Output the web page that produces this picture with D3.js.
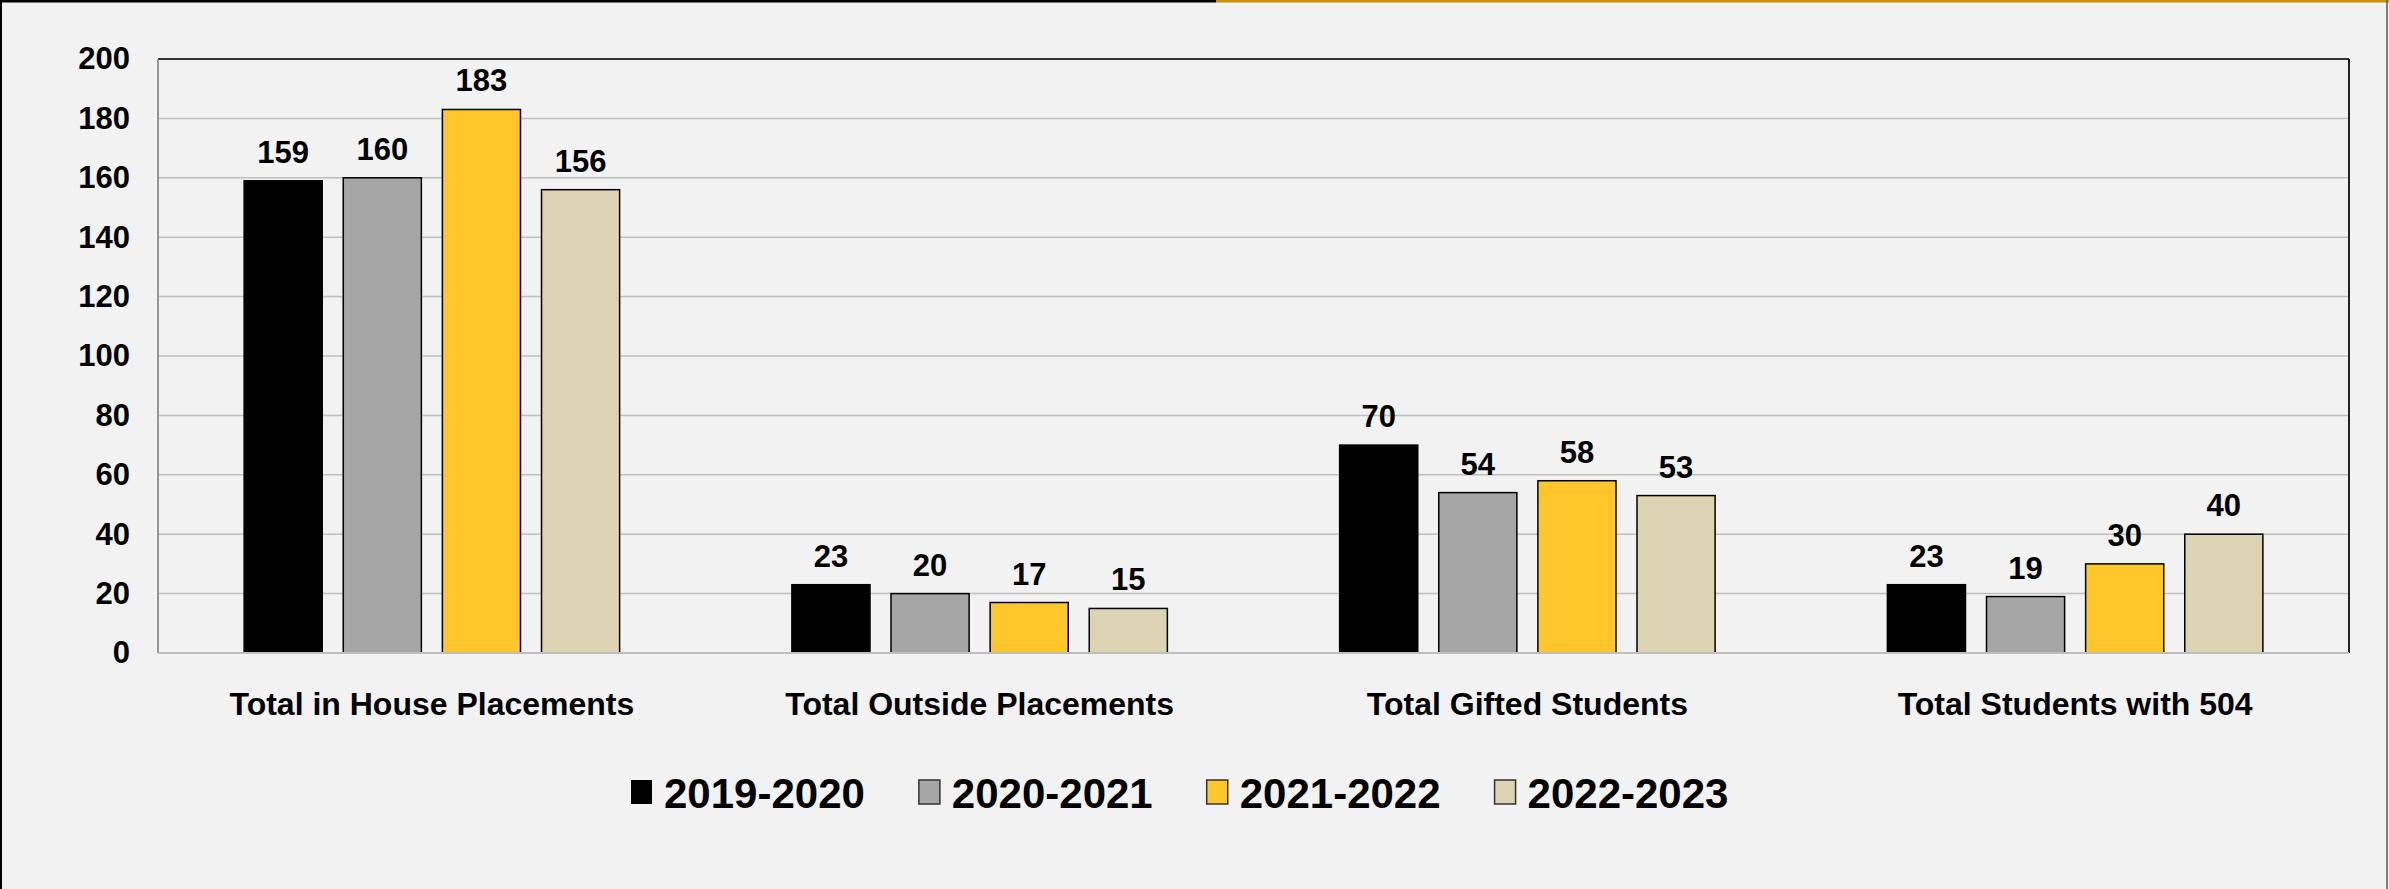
<!DOCTYPE html>
<html>
<head>
<meta charset="utf-8">
<script src="https://cdn.jsdelivr.net/npm/d3@7"></script>
<style>
  html, body { margin: 0; padding: 0; background: #f2f2f2; }
  svg { display: block; }
  text { font-family: "Liberation Sans", Arial, sans-serif; font-weight: bold; fill: #000; }
</style>
</head>
<body>
<script>
const w = 2389;
const h = 889;

const categories = ["Total in House Placements", "Total Outside Placements", "Total Gifted Students", "Total Students with 504"];
const seriesNames = ["2019-2020", "2020-2021", "2021-2022", "2022-2023"];
const seriesColors = ["#000000", "#a6a6a6", "#ffc72c", "#dbd3b1"];
const values2019 = [159, 23, 70, 23];
const values2020 = [160, 20, 54, 19];
const values2021 = [183, 17, 58, 30];
const values2022 = [156, 15, 53, 40];
const yTicks = [0, 20, 40, 60, 80, 100, 120, 140, 160, 180, 200];

const allValues = [values2019, values2020, values2021, values2022];

const svg = d3.select("body")
    .append("svg")
    .attr("width", w)
    .attr("height", h);

// outer frame
svg.append("rect")
    .attr("width", w)
    .attr("height", h)
    .attr("fill", "#f2f2f2");
svg.append("line")
    .attr("x1", 1).attr("x2", 1).attr("y1", 0).attr("y2", h)
    .attr("stroke", "#000").attr("stroke-width", 2);
svg.append("line")
    .attr("x1", 0).attr("x2", 1216).attr("y1", 1).attr("y2", 1)
    .attr("stroke", "#000").attr("stroke-width", 3);
svg.append("line")
    .attr("x1", 1216).attr("x2", w).attr("y1", 1).attr("y2", 1)
    .attr("stroke", "#c8920c").attr("stroke-width", 3);
svg.append("line")
    .attr("x1", 2387).attr("x2", 2387).attr("y1", 0).attr("y2", h)
    .attr("stroke", "#555").attr("stroke-width", 1.5);

const plotLeft = 158, plotRight = 2349, plotTop = 59, plotBottom = 653;

const x0 = d3.scaleBand()
    .domain(categories)
    .range([plotLeft, plotRight]);

const x1 = d3.scaleBand()
    .domain(seriesNames)
    .range([0, x0.bandwidth()])
    .paddingInner(0.212)
    .paddingOuter(0.869);

const y = d3.scaleLinear()
    .domain([0, 200])
    .range([plotBottom, plotTop]);

// gridlines
svg.append("g")
    .selectAll("line")
    .data(yTicks.filter(d => d > 0 && d < 200))
    .join("line")
    .attr("x1", plotLeft).attr("x2", plotRight)
    .attr("y1", d => y(d)).attr("y2", d => y(d))
    .attr("stroke", "#bfbfbf").attr("stroke-width", 1.5);

// plot frame
svg.append("line")
    .attr("x1", plotLeft).attr("x2", plotRight).attr("y1", plotTop).attr("y2", plotTop)
    .attr("stroke", "#333").attr("stroke-width", 2);
svg.append("line")
    .attr("x1", plotRight).attr("x2", plotRight).attr("y1", plotTop).attr("y2", plotBottom)
    .attr("stroke", "#222").attr("stroke-width", 2);
svg.append("line")
    .attr("x1", plotLeft).attr("x2", plotLeft).attr("y1", plotTop).attr("y2", plotBottom)
    .attr("stroke", "#777").attr("stroke-width", 1.5);

// y axis labels
const yAxis = d3.axisLeft(y).tickValues(yTicks).tickSize(0).tickPadding(28);
const gy = svg.append("g")
    .attr("transform", "translate(" + plotLeft + ",0)")
    .call(yAxis);
gy.select(".domain").remove();
gy.selectAll("text")
    .attr("font-size", 31)
    .style("font-family", "'Liberation Sans', Arial, sans-serif")
    .style("font-weight", "bold")
    .attr("fill", "#000");

// bars
const groups = svg.append("g")
    .selectAll("g")
    .data(categories)
    .join("g")
    .attr("transform", d => "translate(" + x0(d) + ",0)");

groups.selectAll("rect")
    .data((d, i) => seriesNames.map((s, j) => ({ s: s, v: allValues[j][i], c: seriesColors[j] })))
    .join("rect")
    .attr("x", d => x1(d.s))
    .attr("y", d => y(d.v))
    .attr("width", x1.bandwidth())
    .attr("height", d => y(0) - y(d.v))
    .attr("fill", d => d.c)
    .attr("stroke", "#000")
    .attr("stroke-width", 1.5);

groups.selectAll("text")
    .data((d, i) => seriesNames.map((s, j) => ({ s: s, v: allValues[j][i] })))
    .join("text")
    .attr("x", d => x1(d.s) + x1.bandwidth() / 2)
    .attr("y", d => y(d.v) - 18)
    .attr("text-anchor", "middle")
    .attr("font-size", 31)
    .text(d => d.v);

// x axis
svg.append("line")
    .attr("x1", plotLeft).attr("x2", plotRight).attr("y1", plotBottom).attr("y2", plotBottom)
    .attr("stroke", "#bfbfbf").attr("stroke-width", 2);

const xAxis = d3.axisBottom(x0).tickSize(0).tickPadding(0);
const gx = svg.append("g")
    .attr("transform", "translate(0," + plotBottom + ")")
    .call(xAxis);
gx.select(".domain").remove();
gx.selectAll("text")
    .attr("dy", null)
    .attr("y", 62)
    .attr("font-size", 32)
    .style("font-family", "'Liberation Sans', Arial, sans-serif")
    .style("font-weight", "bold")
    .attr("fill", "#000");

// legend
const legend = svg.append("g");
let lx = 631;
seriesNames.forEach((s, i) => {
    legend.append("rect")
        .attr("x", lx).attr("y", 780)
        .attr("width", 21).attr("height", 24)
        .attr("fill", seriesColors[i])
        .attr("stroke", i === 0 ? "none" : "#333")
        .attr("stroke-width", 1.5);
    const t = legend.append("text")
        .attr("x", lx + 33)
        .attr("y", 808)
        .attr("font-size", 42)
        .text(s);
    lx += 33 + t.node().getComputedTextLength() + 54;
});
</script>
</body>
</html>
